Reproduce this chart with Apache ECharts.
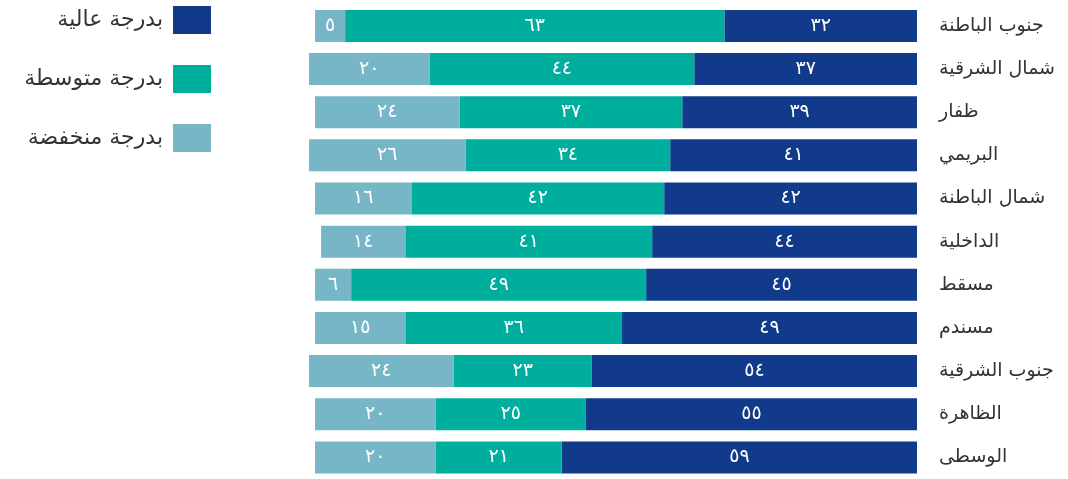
<!DOCTYPE html>
<html lang="ar">
<head>
<meta charset="utf-8">
<script src="https://cdn.jsdelivr.net/npm/echarts@6/dist/echarts.min.js"></script>
<style>
  html, body { margin: 0; padding: 0; background: #ffffff; }
  #chart { width: 1068px; height: 479px; }
</style>
</head>
<body>
<div id="chart"></div>
<script>
// Governorates, listed top to bottom
const governorates = [
  'جنوب الباطنة', 'شمال الشرقية', 'ظفار', 'البريمي', 'شمال الباطنة',
  'الداخلية', 'مسقط', 'مسندم', 'جنوب الشرقية', 'الظاهرة', 'الوسطى'
];

// Shares per level (%)
const highValues   = [32, 37, 39, 41, 42, 44, 45, 49, 54, 55, 59];
const mediumValues = [63, 44, 37, 34, 42, 41, 49, 36, 23, 25, 21];
const lowValues    = [5, 20, 24, 26, 16, 14, 6, 15, 24, 20, 20];

const seriesNames = ['بدرجة عالية', 'بدرجة متوسطة', 'بدرجة منخفضة'];
const seriesColors = ['#113b8a', '#00ae9e', '#76b6c6'];

const arabicDigits = '٠١٢٣٤٥٦٧٨٩';
const toArabic = n => String(n).replace(/[0-9]/g, d => arabicDigits[+d]);

const FONT = '"DejaVu Sans", sans-serif';

const makeSeries = (name, values, color) => ({
  name: name,
  type: 'bar',
  stack: 'total',
  data: values,
  barWidth: 32,
  itemStyle: { color: color },
  label: {
    show: true,
    position: 'inside',
    color: '#ffffff',
    fontFamily: FONT,
    fontWeight: 'normal',
    fontSize: 19,
    formatter: p => toArabic(p.value)
  },
  emphasis: { disabled: true }
});

const chart = echarts.init(document.getElementById('chart'));
chart.setOption({
  animation: false,
  backgroundColor: '#ffffff',
  legend: {
    orient: 'vertical',
    right: 857,
    top: 6,
    padding: 0,
    align: 'right',
    itemWidth: 38,
    itemHeight: 28,
    itemGap: 31,
    icon: 'rect',
    textStyle: { fontFamily: FONT, fontSize: 22, color: '#333333', padding: [0, 5, 0, 0] },
    data: seriesNames
  },
  grid: { left: 303, right: 151, top: 4.3, bottom: -2.7, containLabel: false },
  xAxis: {
    type: 'value',
    inverse: true,
    min: 0,
    max: 102,
    show: false
  },
  yAxis: {
    type: 'category',
    inverse: true,
    position: 'right',
    data: governorates,
    axisLine: { show: false },
    axisTick: { show: false },
    axisLabel: {
      margin: 22,
      color: '#333333',
      fontFamily: FONT,
      fontSize: 19
    }
  },
  series: [
    makeSeries(seriesNames[0], highValues, seriesColors[0]),
    makeSeries(seriesNames[1], mediumValues, seriesColors[1]),
    makeSeries(seriesNames[2], lowValues, seriesColors[2])
  ]
});
</script>
</body>
</html>
